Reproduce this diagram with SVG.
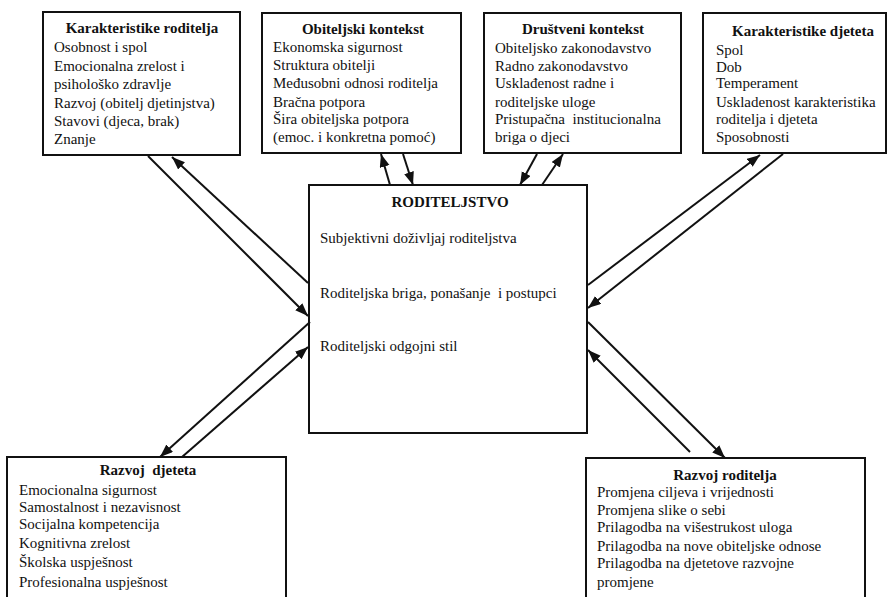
<svg xmlns="http://www.w3.org/2000/svg" width="889" height="597" viewBox="0 0 889 597">
<defs>
<marker id="ah" markerUnits="userSpaceOnUse" markerWidth="14" markerHeight="12" refX="13" refY="5" orient="auto">
<path d="M0,0 L13,5 L0,10 z" fill="#111"/>
</marker>
<style>
.box{fill:#fff;stroke:#111;stroke-width:2}
.t{font-family:"Liberation Serif","Times New Roman",serif;font-size:15px;fill:#111;white-space:pre}
.h{font-family:"Liberation Serif","Times New Roman",serif;font-size:15px;font-weight:bold;fill:#111;text-anchor:middle;white-space:pre}
.c{stroke:#111;stroke-width:2;fill:none;marker-end:url(#ah)}
</style>
</defs>
<rect width="889" height="597" fill="#fff"/>
<g id="karakteristike-roditelja">
<rect class="box" x="43" y="12" width="197" height="143"/>
<text class="h" x="142" y="33">Karakteristike roditelja</text>
<text class="t" x="54" y="52">Osobnost i spol</text>
<text class="t" x="54" y="71">Emocionalna zrelost i</text>
<text class="t" x="54" y="89">psihološko zdravlje</text>
<text class="t" x="54" y="108">Razvoj (obitelj djetinjstva)</text>
<text class="t" x="54" y="126">Stavovi (djeca, brak)</text>
<text class="t" x="54" y="144">Znanje</text>
</g>
<g id="obiteljski-kontekst">
<rect class="box" x="262" y="13" width="199" height="140"/>
<text class="h" x="363" y="34">Obiteljski kontekst</text>
<text class="t" x="273" y="52">Ekonomska sigurnost</text>
<text class="t" x="273" y="70">Struktura obitelji</text>
<text class="t" x="273" y="88">Međusobni odnosi roditelja</text>
<text class="t" x="273" y="107">Bračna potpora</text>
<text class="t" x="273" y="124">Šira obiteljska potpora</text>
<text class="t" x="273" y="142">(emoc. i konkretna pomoć)</text>
</g>
<g id="drustveni-kontekst">
<rect class="box" x="484" y="13" width="197" height="140"/>
<text class="h" x="583" y="34">Društveni kontekst</text>
<text class="t" x="495" y="53">Obiteljsko zakonodavstvo</text>
<text class="t" x="495" y="71">Radno zakonodavstvo</text>
<text class="t" x="495" y="88">Usklađenost radne i</text>
<text class="t" x="495" y="107">roditeljske uloge</text>
<text class="t" x="495" y="124">Pristupačna  institucionalna</text>
<text class="t" x="495" y="142">briga o djeci</text>
</g>
<g id="karakteristike-djeteta">
<rect class="box" x="703" y="13" width="183" height="140"/>
<text class="h" x="803" y="36">Karakteristike djeteta</text>
<text class="t" x="716" y="55">Spol</text>
<text class="t" x="716" y="72">Dob</text>
<text class="t" x="716" y="88">Temperament</text>
<text class="t" x="716" y="107">Uskladenost karakteristika</text>
<text class="t" x="716" y="124">roditelja i djeteta</text>
<text class="t" x="716" y="142">Sposobnosti</text>
</g>
<g id="roditeljstvo">
<rect class="box" x="309" y="185" width="278" height="248"/>
<text class="h" x="450" y="207">RODITELJSTVO</text>
<text class="t" x="320" y="243">Subjektivni doživljaj roditeljstva</text>
<text class="t" x="320" y="298">Roditeljska briga, ponašanje  i postupci</text>
<text class="t" x="320" y="351">Roditeljski odgojni stil</text>
</g>
<g id="razvoj-djeteta">
<rect class="box" x="7" y="457" width="279" height="142"/>
<text class="h" x="148" y="475">Razvoj  djeteta</text>
<text class="t" x="19" y="495">Emocionalna sigurnost</text>
<text class="t" x="19" y="512">Samostalnost i nezavisnost</text>
<text class="t" x="19" y="529">Socijalna kompetencija</text>
<text class="t" x="19" y="548">Kognitivna zrelost</text>
<text class="t" x="19" y="567">Školska uspješnost</text>
<text class="t" x="19" y="587">Profesionalna uspješnost</text>
</g>
<g id="razvoj-roditelja">
<rect class="box" x="586" y="458" width="279" height="141"/>
<text class="h" x="725" y="480">Razvoj roditelja</text>
<text class="t" x="597" y="497">Promjena ciljeva i vrijednosti</text>
<text class="t" x="597" y="515">Promjena slike o sebi</text>
<text class="t" x="597" y="532">Prilagodba na višestrukost uloga</text>
<text class="t" x="597" y="551">Prilagodba na nove obiteljske odnose</text>
<text class="t" x="597" y="568">Prilagodba na djetetove razvojne</text>
<text class="t" x="597" y="587">promjene</text>
</g>
<g id="connectors">
<line class="c" x1="148" y1="156" x2="308" y2="316"/>
<line class="c" x1="308" y1="283" x2="172" y2="157"/>
<line class="c" x1="403" y1="154" x2="413" y2="185"/>
<line class="c" x1="390" y1="185" x2="381" y2="154"/>
<line class="c" x1="537" y1="154" x2="520" y2="185"/>
<line class="c" x1="542" y1="185" x2="563" y2="154"/>
<line class="c" x1="588" y1="285" x2="760" y2="155"/>
<line class="c" x1="783" y1="154" x2="588" y2="308"/>
<line class="c" x1="310" y1="322" x2="160" y2="457"/>
<line class="c" x1="182" y1="457" x2="308" y2="347"/>
<line class="c" x1="588" y1="322" x2="725" y2="458"/>
<line class="c" x1="690" y1="452" x2="588" y2="350"/>
</g>
</svg>
